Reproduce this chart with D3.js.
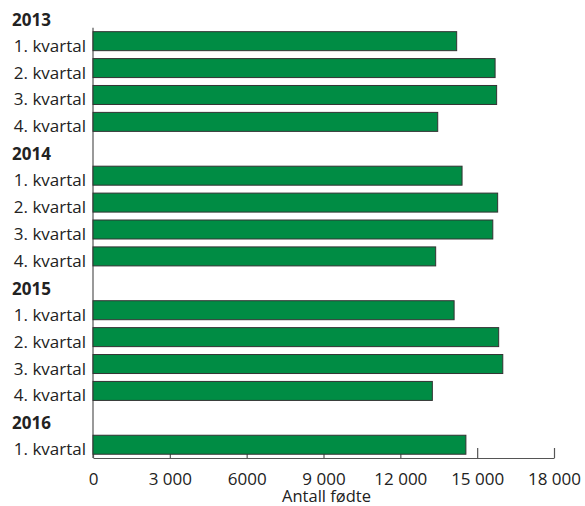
<!DOCTYPE html>
<html>
<head>
<meta charset="utf-8">
<script src="https://cdn.jsdelivr.net/npm/d3@7"></script>
<style>
  html, body { margin: 0; padding: 0; background: #fff; }
  svg { display: block; font-family: "Open Sans", sans-serif; }
</style>
</head>
<body>
<svg id="chart" width="585" height="506"></svg>
<script>
// ---- data ----
const years = ["2013", "2014", "2015", "2016"];
const quarterLabels = ["1. kvartal", "2. kvartal", "3. kvartal", "4. kvartal"];
const births2013 = [14200, 15700, 15760, 13460];
const births2014 = [14410, 15800, 15610, 13380];
const births2015 = [14100, 15840, 16000, 13250];
const births2016 = [14560];
const tickValues = [0, 3000, 6000, 9000, 12000, 15000, 18000];
const tickLabels = ["0", "3 000", "6000", "9 000", "12 000", "15 000", "18 000"];
const axisTitle = "Antall fødte";

(function () {
  // ---- build rows ----
  const seriesByYear = [births2013, births2014, births2015, births2016];
  const rows = [];
  years.forEach((yr, i) => {
    rows.push({ key: "y" + yr, label: yr, header: true });
    seriesByYear[i].forEach((v, q) => {
      rows.push({ key: yr + "q" + q, label: quarterLabels[q], header: false, value: v });
    });
  });

  const svg = d3.select("#chart");
  const plotLeft = 93, plotRight = 554, plotTop = 1, plotBottom = 458;

  const x = d3.scaleLinear().domain([0, 18000]).range([plotLeft, plotRight]);
  const y = d3.scaleBand()
    .domain(rows.map(r => r.key))
    .range([plotTop, plotBottom])
    .paddingInner(0.294)
    .paddingOuter(0.14);

  // bottom axis (ticks pointing up, behind bars)
  const xAxis = d3.axisBottom(x)
    .tickValues(tickValues)
    .tickFormat((d, i) => tickLabels[i])
    .tickSizeInner(-10)
    .tickSizeOuter(0)
    .tickPadding(15);

  const gx = svg.append("g")
    .attr("transform", `translate(0,${plotBottom})`)
    .call(xAxis);
  gx.select(".domain").attr("stroke", "#555").attr("stroke-width", 1.2);
  gx.selectAll(".tick line").attr("stroke", "#555").attr("stroke-width", 1.2);
  gx.selectAll(".tick text")
    .attr("fill", "#222")
    .style("font-family", "'Open Sans', sans-serif")
    .style("font-size", "17px");

  // vertical axis line
  const firstBarRow = rows[1].key;
  const vTop = y(firstBarRow) - (y.step() - y.bandwidth()) / 2;
  svg.append("line")
    .attr("x1", x(0)).attr("x2", x(0))
    .attr("y1", vTop).attr("y2", plotBottom)
    .attr("stroke", "#555").attr("stroke-width", 1.2);

  // bars
  svg.append("g")
    .selectAll("rect")
    .data(rows.filter(r => !r.header))
    .join("rect")
    .attr("x", x(0))
    .attr("y", d => y(d.key))
    .attr("width", d => x(d.value) - x(0))
    .attr("height", y.bandwidth())
    .attr("fill", "#008C44")
    .attr("stroke", "#333")
    .attr("stroke-width", 1);

  // row labels
  svg.append("g")
    .selectAll("text")
    .data(rows)
    .join("text")
    .attr("x", d => d.header ? 12 : 86)
    .attr("y", d => y(d.key) + y.bandwidth() + (d.header ? 2 : 1))
    .attr("text-anchor", d => d.header ? "start" : "end")
    .attr("font-weight", d => d.header ? "bold" : "normal")
    .attr("fill", "#222")
    .style("font-size", "17px")
    .text(d => d.label);

  // axis title
  svg.append("text")
    .attr("x", (x(0) + x(18000)) / 2 + 3)
    .attr("y", 502)
    .attr("text-anchor", "middle")
    .attr("fill", "#222")
    .style("font-size", "16.5px")
    .text(axisTitle);
})();
</script>
</body>
</html>
